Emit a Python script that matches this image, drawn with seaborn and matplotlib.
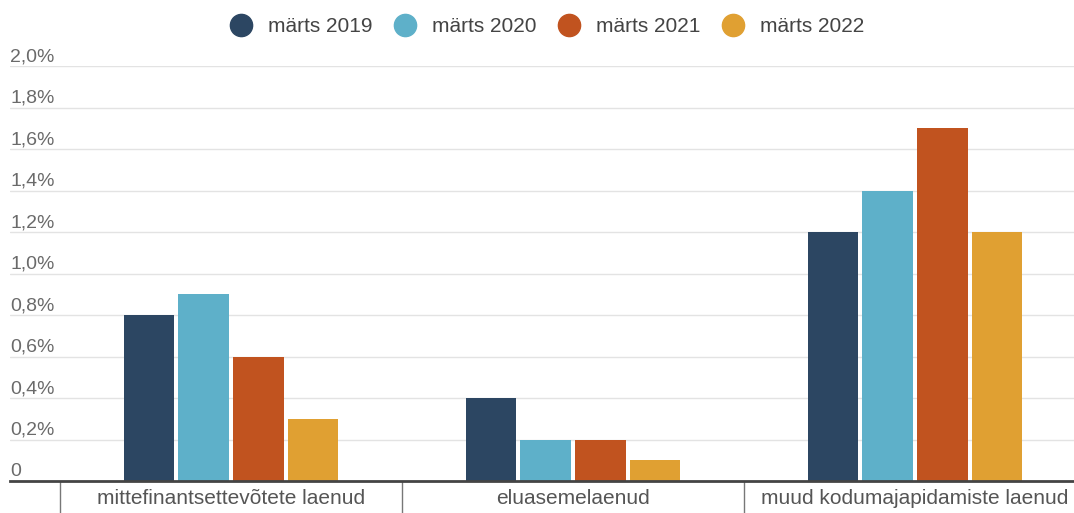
import matplotlib
matplotlib.use('Agg')
import matplotlib.pyplot as plt
import numpy as np
import pandas as pd
import seaborn as sns

categories = ["mittefinantsettevõtete laenud", "eluasemelaenud", "muud kodumajapidamiste laenud"]
series = ["märts 2019", "märts 2020", "märts 2021", "märts 2022"]
v2019 = [0.8, 0.4, 1.2]
v2020 = [0.9, 0.2, 1.4]
v2021 = [0.6, 0.2, 1.7]
v2022 = [0.3, 0.1, 1.2]
colors = ["#2c4662", "#5eb0c9", "#c1531f", "#e0a032"]
yticks = [0, 0.2, 0.4, 0.6, 0.8, 1.0, 1.2, 1.4, 1.6, 1.8, 2.0]

rows = []
for s, vals in zip(series, [v2019, v2020, v2021, v2022]):
    for c, v in zip(categories, vals):
        rows.append({"kategooria": c, "periood": s, "vaartus": v})
df = pd.DataFrame(rows)

sns.set_theme(style="white")
plt.rcParams['font.family'] = ['Liberation Sans', 'DejaVu Sans']

fig = plt.figure(figsize=(10.74, 5.13), dpi=100)
ax = fig.add_axes([10/1074, 1 - 481/513, 1 - 10/1074, (481 - 66)/513])

sns.barplot(data=df, x="kategooria", y="vaartus", hue="periood", order=categories,
            hue_order=series, palette=colors, width=0.64, gap=0.075, ax=ax,
            linewidth=0, saturation=1, legend=False, zorder=2)

ax.set_xlim(-0.646, 2.465)
ax.set_ylim(0, 2.0)
ax.set_xlabel("")
ax.set_ylabel("")

# gridlines and y labels above them
for t in yticks:
    if t > 0:
        ax.axhline(t, color="#e3e3e3", linewidth=1, zorder=0)
    lab = "0" if t == 0 else f"{t:.1f}%".replace(".", ",")
    ax.text(0.0, t + 0.045, lab, transform=ax.get_yaxis_transform(),
            ha="left", va="center", fontsize=14, color="#6a6a6a")
ax.set_yticks([])

for sp in ["top", "right", "left"]:
    ax.spines[sp].set_visible(False)
ax.spines["bottom"].set_color("#444444")
ax.spines["bottom"].set_linewidth(2)
ax.spines["bottom"].set_zorder(3)

ax.set_xticks(range(len(categories)))
ax.set_xticklabels(categories, fontsize=15, color="#555555")
ax.tick_params(axis="x", which="major", length=0, pad=6)
ax.set_xticks([-0.5, 0.5, 1.5], minor=True)
ax.tick_params(axis="x", which="minor", bottom=True, length=32, width=1,
               color="#777777", direction="out")

handles = [plt.Line2D([], [], marker="o", linestyle="", markersize=16,
                      markerfacecolor=c, markeredgecolor=c) for c in colors]
fig.legend(handles, series, loc="center", bbox_to_anchor=(0.505, 1 - 27/513), ncol=4,
           frameon=False, fontsize=15, handletextpad=0.3, columnspacing=0.55,
           labelcolor="#444444")

fig.savefig("out.png", dpi=100)
